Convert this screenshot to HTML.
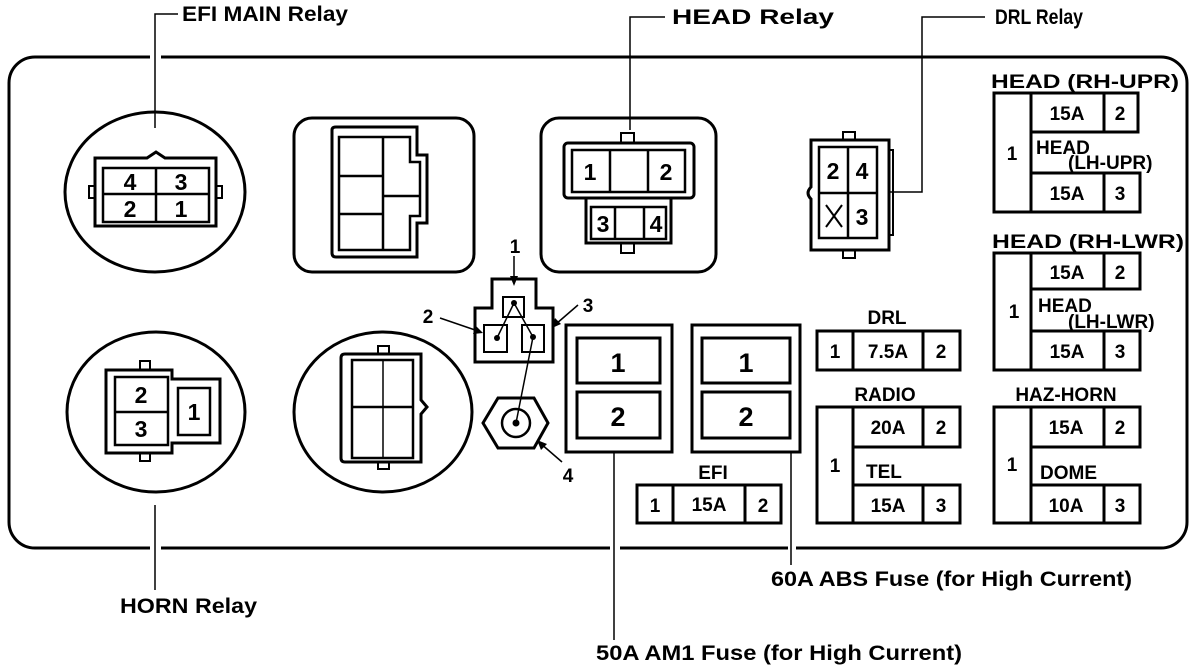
<!DOCTYPE html>
<html><head><meta charset="utf-8"><style>
html,body{margin:0;padding:0;background:#fff;}
svg{display:block;}
text{font-family:"Liberation Sans",sans-serif;fill:#000;}
.l{font-size:21px;font-weight:bold;}
.n{font-size:23px;font-weight:bold;text-anchor:middle;}
.f{font-size:19px;font-weight:bold;text-anchor:middle;}
</style></head><body>
<svg width="1200" height="670" viewBox="0 0 1200 670" xmlns="http://www.w3.org/2000/svg">
<g fill="none" stroke="#000" stroke-width="3">
<rect x="9" y="57" width="1178" height="491" rx="26"/>
</g>
<g stroke="#fff" stroke-width="6">
<line x1="150" y1="57" x2="161" y2="57"/><line x1="150" y1="548" x2="161" y2="548"/>
<line x1="610" y1="548" x2="620" y2="548"/><line x1="788" y1="548" x2="796" y2="548"/>
</g>
<g fill="none" stroke="#000" stroke-width="1.5">
<polyline points="178,14 155,14 155,128"/>
<polyline points="665,17 630,17 630,130"/>
<polyline points="985,17 922,17 922,192 889,192"/>
<line x1="155" y1="505" x2="155" y2="590"/>
<line x1="614" y1="452" x2="614" y2="640"/>
<line x1="791" y1="452" x2="791" y2="565"/>
</g>
<text class="l" x="182" y="21" textLength="166" lengthAdjust="spacingAndGlyphs">EFI MAIN Relay</text>
<text class="l" x="672" y="24" textLength="162" lengthAdjust="spacingAndGlyphs">HEAD Relay</text>
<text class="l" x="995" y="24" textLength="88" lengthAdjust="spacingAndGlyphs">DRL Relay</text>
<text class="l" x="120" y="613" textLength="137" lengthAdjust="spacingAndGlyphs">HORN Relay</text>
<text class="l" x="771" y="586" textLength="361" lengthAdjust="spacingAndGlyphs">60A ABS Fuse (for High Current)</text>
<text class="l" x="596" y="660" textLength="366" lengthAdjust="spacingAndGlyphs">50A AM1 Fuse (for High Current)</text>

<g fill="none" stroke="#000" stroke-width="3">
<ellipse cx="155" cy="192" rx="90" ry="80"/>
<ellipse cx="156" cy="412" rx="89" ry="80"/>
<ellipse cx="383" cy="412" rx="89" ry="80"/>
<rect x="294" y="118" width="180" height="154" rx="18"/>
<rect x="541" y="118" width="175" height="154" rx="18"/>
<path d="M95,158 H147 L156,152 L165,158 H216 V226 H95 Z"/>
<rect x="103" y="168" width="106" height="54" stroke-width="2.5"/>
<line x1="156" y1="168" x2="156" y2="222" stroke-width="2.5"/>
<line x1="103" y1="194" x2="209" y2="194" stroke-width="2.5"/>
<rect x="89" y="186" width="6" height="12" stroke-width="2"/>
<rect x="216" y="186" width="6" height="12" stroke-width="2"/>
<path d="M332,130 Q332,127 336,127 H417 V155 H427 V223 H417 V257 H336 Q332,257 332,253 Z"/>
<path d="M339,137 H410 V162 H420 V216 H410 V250 H339 Z" stroke-width="2.5"/>
<line x1="383" y1="137" x2="383" y2="250" stroke-width="2.5"/>
<line x1="339" y1="176" x2="383" y2="176" stroke-width="2.5"/>
<line x1="339" y1="214" x2="383" y2="214" stroke-width="2.5"/>
<line x1="383" y1="196" x2="420" y2="196" stroke-width="2.5"/>
<rect x="564" y="143" width="130" height="55" rx="4"/>
<rect x="572" y="150" width="113" height="42" stroke-width="2.5"/>
<line x1="610" y1="150" x2="610" y2="192" stroke-width="2.5"/>
<line x1="648" y1="150" x2="648" y2="192" stroke-width="2.5"/>
<path d="M586,198 V243 H671 V198"/>
<rect x="591" y="207" width="75" height="32" stroke-width="2.5"/>
<line x1="615" y1="207" x2="615" y2="239" stroke-width="2.5"/>
<line x1="644" y1="207" x2="644" y2="239" stroke-width="2.5"/>
<rect x="621" y="133" width="13" height="10" stroke-width="2"/>
<rect x="621" y="243" width="13" height="10" stroke-width="2"/>
<path d="M811,140 H889 V250 H811 V199 Q805,193 811,187 Z"/>
<rect x="819" y="147" width="58" height="91" stroke-width="2.5"/>
<line x1="848" y1="147" x2="848" y2="238" stroke-width="2.5"/>
<line x1="819" y1="193" x2="877" y2="193" stroke-width="2.5"/>
<rect x="843" y="132" width="12" height="8" stroke-width="2"/>
<rect x="843" y="250" width="12" height="8" stroke-width="2"/>
<path d="M889,150 H893 V235 H889" stroke-width="2"/>
<line x1="826" y1="205" x2="842" y2="227" stroke-width="2"/>
<line x1="842" y1="205" x2="826" y2="227" stroke-width="2"/>
<path d="M106,370 H172 V379 H220 V443 H172 V453 H106 Z"/>
<rect x="115" y="377" width="53" height="68" stroke-width="2.5"/>
<line x1="115" y1="412" x2="168" y2="412" stroke-width="2.5"/>
<rect x="178" y="388" width="32" height="47" stroke-width="2.5"/>
<rect x="140" y="361" width="10" height="9" stroke-width="2"/>
<rect x="140" y="453" width="10" height="8" stroke-width="2"/>
<path d="M345,354 H421 V400 L427,407 L421,414 V462 H345 Q341,462 341,458 V358 Q341,354 345,354 Z"/>
<rect x="352" y="360" width="61" height="98" stroke-width="2.5"/>
<line x1="383" y1="360" x2="383" y2="458" stroke-width="1.5"/>
<line x1="352" y1="407" x2="413" y2="407" stroke-width="2.5"/>
<rect x="378" y="346" width="11" height="8" stroke-width="2"/>
<rect x="378" y="462" width="11" height="7" stroke-width="2"/>
<path d="M492,279 H536 V308 H553 V362 H475 V308 H492 Z"/>
<rect x="503" y="297" width="21" height="20" stroke-width="2"/>
<rect x="484" y="325" width="23" height="27" stroke-width="2"/>
<rect x="522" y="325" width="22" height="27" stroke-width="2"/>
<polygon points="483,423 498,398 534,398 548,423 534,448 498,448"/>
<circle cx="516" cy="423" r="14" stroke-width="2.5"/>
<rect x="566" y="325" width="106" height="127"/>
<rect x="577" y="338" width="83" height="45"/>
<rect x="577" y="392" width="83" height="46"/>
<rect x="692" y="325" width="108" height="127"/>
<rect x="702" y="338" width="88" height="45"/>
<rect x="702" y="392" width="88" height="46"/>
<rect x="637" y="485" width="144" height="38"/>
<line x1="673" y1="485" x2="673" y2="523"/><line x1="745" y1="485" x2="745" y2="523"/>
<rect x="817" y="331" width="143" height="39"/>
<line x1="853" y1="331" x2="853" y2="370"/><line x1="923" y1="331" x2="923" y2="370"/>
<rect x="817" y="407" width="36" height="116"/>
<rect x="853" y="407" width="107" height="40"/><line x1="923" y1="407" x2="923" y2="447"/>
<rect x="853" y="485" width="107" height="38"/><line x1="923" y1="485" x2="923" y2="523"/>
<rect x="994" y="93" width="37" height="119"/>
<rect x="1031" y="93" width="107" height="39"/><line x1="1104" y1="93" x2="1104" y2="132"/>
<rect x="1031" y="173" width="109" height="39"/><line x1="1104" y1="173" x2="1104" y2="212"/>
<rect x="994" y="253" width="37" height="117"/>
<rect x="1031" y="253" width="109" height="36"/><line x1="1104" y1="253" x2="1104" y2="289"/>
<rect x="1031" y="331" width="109" height="39"/><line x1="1104" y1="331" x2="1104" y2="370"/>
<rect x="994" y="407" width="37" height="116"/>
<rect x="1031" y="407" width="109" height="40"/><line x1="1104" y1="407" x2="1104" y2="447"/>
<rect x="1031" y="485" width="109" height="38"/><line x1="1104" y1="485" x2="1104" y2="523"/>
</g>
<g stroke="#000" stroke-width="1.5" fill="none">
<line x1="514" y1="303" x2="497" y2="338"/>
<line x1="514" y1="303" x2="533" y2="337"/>
<line x1="533" y1="337" x2="516" y2="423"/>
<line x1="514" y1="256" x2="514" y2="280"/>
<line x1="440" y1="318" x2="478" y2="331"/>
<line x1="578" y1="305" x2="556" y2="324"/>
<line x1="562" y1="462" x2="540" y2="443"/>
</g>
<g fill="#000">
<circle cx="514" cy="303" r="3"/><circle cx="497" cy="338" r="3"/><circle cx="533" cy="337" r="3"/><circle cx="516" cy="423" r="3.5"/>
<polygon points="514,286 510,276 518,276"/>
<polygon points="483,333 473,334 476,326"/>
<polygon points="552,328 555,318 561,324"/>
<polygon points="537,440 547,444 541,450"/>
</g>
<text class="n" x="515" y="253" style="font-size:19px">1</text>
<text class="n" x="428" y="323" style="font-size:19px">2</text>
<text class="n" x="588" y="312" style="font-size:19px">3</text>
<text class="n" x="568" y="482" style="font-size:19px">4</text>

<text class="n" x="130" y="190">4</text><text class="n" x="181" y="190">3</text>
<text class="n" x="130" y="217">2</text><text class="n" x="181" y="217">1</text>
<text class="n" x="141" y="403">2</text><text class="n" x="141" y="437">3</text><text class="n" x="194" y="420">1</text>
<text class="n" x="590" y="180">1</text><text class="n" x="666" y="180">2</text>
<text class="n" x="603" y="232">3</text><text class="n" x="656" y="232">4</text>
<text class="n" x="833" y="179">2</text><text class="n" x="862" y="179">4</text><text class="n" x="862" y="225">3</text>
<text class="n" x="618" y="372" style="font-size:27px">1</text><text class="n" x="618" y="426" style="font-size:27px">2</text>
<text class="n" x="746" y="372" style="font-size:27px">1</text><text class="n" x="746" y="426" style="font-size:27px">2</text>

<text class="f" x="713" y="479">EFI</text>
<text class="f" x="655" y="512">1</text><text class="f" x="709" y="511">15A</text><text class="f" x="763" y="512">2</text>
<text class="f" x="887" y="324">DRL</text>
<text class="f" x="835" y="358">1</text><text class="f" x="888" y="358">7.5A</text><text class="f" x="941" y="358">2</text>
<text class="f" x="885" y="401">RADIO</text>
<text class="f" x="835" y="472">1</text>
<text class="f" x="888" y="434">20A</text><text class="f" x="941" y="434">2</text>
<text class="f" x="866" y="478" style="text-anchor:start">TEL</text>
<text class="f" x="888" y="512">15A</text><text class="f" x="941" y="512">3</text>

<text class="f" x="1085" y="88" textLength="188" lengthAdjust="spacingAndGlyphs">HEAD (RH-UPR)</text>
<text class="f" x="1012" y="160">1</text>
<text class="f" x="1067" y="120">15A</text><text class="f" x="1120" y="120">2</text>
<text class="f" x="1036" y="154" style="text-anchor:start">HEAD</text>
<text class="f" x="1068" y="169" style="text-anchor:start">(LH-UPR)</text>
<text class="f" x="1067" y="200">15A</text><text class="f" x="1120" y="200">3</text>

<text class="f" x="1088" y="248" textLength="192" lengthAdjust="spacingAndGlyphs">HEAD (RH-LWR)</text>
<text class="f" x="1014" y="318">1</text>
<text class="f" x="1067" y="279">15A</text><text class="f" x="1120" y="279">2</text>
<text class="f" x="1038" y="312" style="text-anchor:start">HEAD</text>
<text class="f" x="1068" y="328" style="text-anchor:start">(LH-LWR)</text>
<text class="f" x="1067" y="358">15A</text><text class="f" x="1120" y="358">3</text>

<text class="f" x="1066" y="401">HAZ-HORN</text>
<text class="f" x="1012" y="471">1</text>
<text class="f" x="1066" y="434">15A</text><text class="f" x="1120" y="434">2</text>
<text class="f" x="1040" y="479" style="text-anchor:start">DOME</text>
<text class="f" x="1066" y="512">10A</text><text class="f" x="1120" y="512">3</text>
</svg>
</body></html>
